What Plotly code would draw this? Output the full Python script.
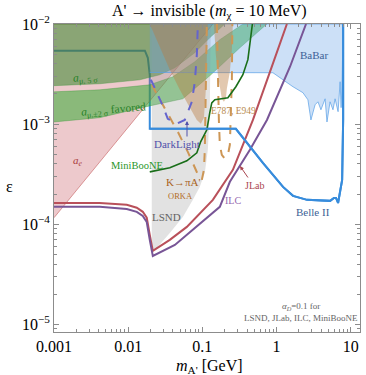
import plotly.graph_objects as go

# ---------------- data (m_A' in GeV, epsilon) ----------------
ae_m = [0.001, 0.1386, 0.001]
ae_eps = [1.16e-4, 0.01, 0.01]

amu5_m = [0.001, 0.00414, 0.01436, 0.0267, 0.0426, 0.0792, 0.126, 0.201, 0.001]
amu5_eps = [2.42e-3, 2.53e-3, 2.77e-3, 3.11e-3, 3.66e-3, 5.16e-3, 7.29e-3, 0.01, 0.01]

fav_up_m = [0.001, 0.00414, 0.01955, 0.04, 0.0792, 0.172, 0.352]
fav_up_eps = [2.10e-3, 2.20e-3, 2.47e-3, 2.97e-3, 4.20e-3, 6.97e-3, 0.01]
fav_lo_m = [0.001, 0.00414, 0.01955, 0.0546, 0.126, 0.321, 0.743]
fav_lo_eps = [1.05e-3, 1.16e-3, 1.52e-3, 1.79e-3, 3.04e-3, 5.79e-3, 0.01]

lsnd_m = [0.0208, 0.0208, 0.0229, 0.0243, 0.0364, 0.0546, 0.0745, 0.0925, 0.108, 0.1186, 0.126, 0.130]
lsnd_eps = [0.01, 5.80e-5, 5.41e-5, 5.80e-5, 8.19e-5, 1.18e-4, 1.75e-4, 2.36e-4, 3.26e-4, 5.53e-4, 1.39e-3, 0.01]

babar_m = [0.01955, 0.698, 0.894, 1.224, 1.67, 2.27, 2.65, 2.91, 3.31, 3.62, 3.97, 4.52, 4.79,
           5.27, 5.77, 6.16, 6.76, 7.20, 7.43, 7.67, 7.91, 0.01955]
babar_eps = [3.28e-3, 3.28e-3, 3.26e-3, 2.77e-3, 2.36e-3, 2.06e-3, 1.75e-3, 1.10e-3, 1.56e-3, 1.67e-3,
             1.39e-3, 1.79e-3, 1.05e-3, 1.67e-3, 1.39e-3, 1.79e-3, 1.33e-3, 2.65e-3, 1.46e-3, 2.77e-3,
             0.01, 0.01]

e787a_m = [0.01955, 0.0267, 0.0364, 0.0497, 0.0678, 0.0843, 0.0955, 0.105, 0.1115, 0.115, 0.1186]
e787a_eps = [0.01, 5.93e-3, 3.49e-3, 2.20e-3, 1.46e-3, 1.10e-3, 1.01e-3, 1.16e-3, 2.20e-3, 5.53e-3, 0.01]
e787b_m = [0.143, 0.152, 0.162, 0.172, 0.183, 0.195, 0.2075, 0.214, 0.235, 0.250, 0.258]
e787b_eps = [0.01, 4.93e-3, 3.11e-3, 2.25e-3, 1.79e-3, 1.67e-3, 1.79e-3, 2.25e-3, 3.33e-3, 5.53e-3, 0.01]

orka_m = [0.0208, 0.0312, 0.0467, 0.0637, 0.0792, 0.0925, 0.0984, 0.105, 0.108, 0.1115, 0.115, None,
          0.157, 0.162, 0.167, 0.172, 0.183, 0.201, 0.221, 0.235, 0.2425, 0.250, 0.254]
orka_eps = [2.47e-3, 1.42e-3, 8.38e-4, 5.28e-4, 3.74e-4, 2.84e-4, 2.77e-4, 3.49e-4, 5.53e-4, 1.75e-3, 0.01, None,
            0.01, 2.77e-3, 1.10e-3, 6.21e-4, 4.93e-4, 4.50e-4, 4.93e-4, 6.21e-4, 1.10e-3, 2.77e-3, 0.01]

darklight_m = [0.0202, 0.0215, 0.0284, 0.0342, 0.0453, 0.0580, 0.0721, 0.0792, 0.0843, 0.0870]
darklight_eps = [2.77e-3, 2.53e-3, 1.60e-3, 1.13e-3, 1.01e-3, 1.10e-3, 1.67e-3, 2.65e-3, 4.93e-3, 0.01]

miniboone_m = [0.01955, 0.0364, 0.0618, 0.0843, 0.0948, 0.115, 0.126, 0.134, 0.1475, 0.221, 0.283,
               0.352, 0.411, 0.452, 0.473]
miniboone_eps = [3.33e-4, 3.66e-4, 4.30e-4, 5.16e-4, 6.65e-4, 8.77e-4, 1.30e-3, 1.63e-3, 1.75e-3, 1.83e-3,
                 2.36e-3, 3.11e-3, 4.40e-3, 7.29e-3, 0.01]

jlab_m = [0.001, 0.00414, 0.00957, 0.01306, 0.01574, 0.0178, 0.01955, 0.0215, 0.0364, 0.0618, 0.1386,
          0.258, 0.399, 0.481, 0.816, 1.38]
jlab_eps = [1.63e-4, 1.63e-4, 1.56e-4, 1.46e-4, 1.33e-4, 1.16e-4, 7.82e-5, 5.41e-5, 6.97e-5, 9.40e-5,
            1.75e-4, 3.49e-4, 7.82e-4, 1.10e-3, 3.33e-3, 0.01]

ilc_m = [0.001, 0.00414, 0.00957, 0.01306, 0.01574, 0.0178, 0.01955, 0.0215, 0.0426, 0.0745, 0.172,
         0.235, 0.438, 0.743, 1.52, 2.50]
ilc_eps = [1.49e-4, 1.49e-4, 1.42e-4, 1.33e-4, 1.21e-4, 1.05e-4, 6.97e-5, 4.82e-5, 6.21e-5, 8.77e-5,
           1.49e-4, 2.65e-4, 5.53e-4, 1.10e-3, 3.74e-3, 0.01]

belle_m = [0.001, 0.0168, 0.0184, 0.01955, 0.01955, 0.283, 0.655, 1.224, 1.67, 2.58, 5.27, 5.95, 6.34,
           6.76, 7.67, 7.91, 7.91]
belle_eps = [5.41e-3, 5.41e-3, 4.60e-3, 3.11e-3, 8.97e-4, 8.97e-4, 4.10e-4, 2.36e-4, 1.92e-4, 1.75e-4,
             1.71e-4, 1.83e-4, 1.83e-4, 1.63e-4, 2.77e-4, 1.10e-3, 0.01]

x_ticks = [0.001, 0.01, 0.1, 1, 10]
x_ticktext = ["0.001", "0.01", "0.1", "1", "10"]
y_ticks = [1e-5, 1e-4, 1e-3, 1e-2]
y_ticktext = ["10<sup>\u22125</sup>", "10<sup>\u22124</sup>", "10<sup>\u22123</sup>", "10<sup>\u22122</sup>"]

# ---------------- figure ----------------
W, H = 366, 375
L, R, T, B = 54, 6, 24, 43
PW, PH = W - L - R, H - T - B
SERIF = "Liberation Serif, Times New Roman, serif"


def pxx(x):
    return (x - L) / PW


def pyy(y):
    return (H - B - y) / PH


fig = go.Figure()


def region(xs, ys, fill, line_color=None, lw=0.8):
    fig.add_trace(go.Scatter(x=xs, y=ys, mode="lines", fill="toself", fillcolor=fill,
                             line=dict(color=line_color or "rgba(0,0,0,0)", width=lw),
                             hoverinfo="skip", showlegend=False))


def curve(xs, ys, color, width=2, dash="solid"):
    fig.add_trace(go.Scatter(x=xs, y=ys, mode="lines", line=dict(color=color, width=width, dash=dash),
                             hoverinfo="skip", showlegend=False, connectgaps=False))


BELLE = "rgb(55,140,220)"
# Belle II first: its upper-left part lies beneath the g-2 overlays
curve(belle_m, belle_eps, BELLE, 2)

region(ae_m, ae_eps, "rgba(200,90,100,0.33)", "rgba(200,100,100,0.8)", 0.8)
region(amu5_m, amu5_eps, "rgba(40,130,30,0.5)", "rgba(60,150,60,0.6)", 0.6)
band_m = fav_up_m + fav_lo_m[::-1]
band_eps = fav_up_eps + fav_lo_eps[::-1]
region(band_m, band_eps, "rgba(40,170,40,0.5)", "rgba(60,150,60,0.6)", 0.6)
region(lsnd_m, lsnd_eps, "rgba(150,150,150,0.28)")
region(babar_m, babar_eps, "rgba(100,160,230,0.33)", "rgba(90,160,230,0.9)", 0.8)
region(e787a_m, e787a_eps, "rgba(185,125,65,0.42)")
region(e787b_m, e787b_eps, "rgba(185,125,65,0.42)")

curve(orka_m, orka_eps, "rgb(205,150,85)", 2, "dash")
curve(darklight_m, darklight_eps, "rgb(100,100,205)", 2, "dash")
curve(miniboone_m, miniboone_eps, "rgb(25,110,25)", 1.6)
curve(jlab_m, jlab_eps, "rgb(185,80,90)", 2)
curve(ilc_m, ilc_eps, "rgb(120,85,150)", 2)
# lower part of Belle II on top of everything
curve(belle_m[4:], belle_eps[4:], BELLE, 2)

ann = []


def label(text, x, y, color, size=11, angle=0):
    ann.append(dict(text=text, x=pxx(x), y=pyy(y), xref="paper", yref="paper", showarrow=False,
                    xanchor="center", yanchor="middle", textangle=angle,
                    font=dict(family=SERIF, size=size, color=color)))


label("BaBar", 314, 55, "rgb(60,95,150)", 11)
label("Belle II", 313, 212, "rgb(60,95,150)", 11)
label("JLab", 254, 185, "rgb(170,70,80)", 10)
label("ILC", 233, 200, "rgb(150,105,175)", 10)
label("E787, E949", 233, 111, "rgb(185,140,80)", 9.5)
label("DarkLight", 177, 144, "rgb(80,80,170)", 11)
label("MiniBooNE", 137, 165, "rgb(40,150,40)", 10.5)
label("K\u2192\u03c0A'", 183, 182, "rgb(170,100,30)", 11)
label("ORKA", 180, 196, "rgb(180,110,40)", 8.5)
label("LSND", 166, 217, "rgb(100,100,100)", 11)
label("<i>a</i><sub><i>e</i></sub>", 78, 161, "rgb(170,60,60)", 11)
label("<i>a</i><sub>\u03bc, 5 \u03c3</sub>", 85, 78, "rgb(40,130,40)", 11.5, -4)
label("<i>a</i><sub>\u03bc,\u00b12 \u03c3</sub> favored", 113, 110, "rgb(40,130,40)", 11.5, -5)
label("<i>\u03b1</i><sub><i>D</i></sub>=0.1 for", 301, 306, "rgb(100,100,100)", 9)
label("LSND, JLab, ILC, MiniBooNE", 301, 318, "rgb(100,100,100)", 9)

# arrows
ann.append(dict(x=pxx(187), y=pyy(121), xref="paper", yref="paper", ax=0, ay=17, text="",
                showarrow=True, arrowhead=2, arrowsize=0.8, arrowwidth=1, arrowcolor="rgb(80,80,170)"))
ann.append(dict(x=pxx(240), y=pyy(166), xref="paper", yref="paper", ax=9, ay=13, text="",
                showarrow=True, arrowhead=2, arrowsize=0.8, arrowwidth=1, arrowcolor="rgb(170,70,80)"))

# titles
ann.append(dict(text="A' \u2192 invisible (<i>m</i><sub>\u03c7</sub> = 10 MeV)", x=pxx(209), y=pyy(11),
                xref="paper", yref="paper", showarrow=False, xanchor="center", yanchor="middle",
                font=dict(family=SERIF, size=16, color="black")))
ann.append(dict(text="<i>m</i><sub>A'</sub> [GeV]", x=pxx(209), y=pyy(366),
                xref="paper", yref="paper", showarrow=False, xanchor="center", yanchor="middle",
                font=dict(family=SERIF, size=16, color="black")))
ann.append(dict(text="\u03b5", x=pxx(9), y=pyy(186),
                xref="paper", yref="paper", showarrow=False, xanchor="center", yanchor="middle",
                font=dict(family=SERIF, size=16, color="black")))

x_minor = [k * 10 ** n for n in range(-3, 2) for k in range(2, 10) if k * 10 ** n < 13.3]
y_minor = [k * 10.0 ** n for n in range(-6, -2) for k in range(2, 10) if k * 10.0 ** n > 8.4e-6]

axis_common = dict(showgrid=False, zeroline=False, showline=True, linecolor="rgb(140,140,140)",
                   linewidth=1, mirror="ticks", ticks="inside", ticklen=5, tickcolor="rgb(140,140,140)",
                   tickwidth=1, automargin=False, tickfont=dict(family=SERIF, size=16, color="black"))

fig.update_layout(
    width=W, height=H,
    margin=dict(l=L, r=R, t=T, b=B, autoexpand=False),
    paper_bgcolor="white", plot_bgcolor="white",
    showlegend=False,
    annotations=ann,
    xaxis=dict(type="log", range=[-3, 1.1255], tickmode="array", tickvals=x_ticks, ticktext=x_ticktext,
               minor=dict(ticks="inside", ticklen=3, tickcolor="rgb(140,140,140)", tickmode="array",
                          tickvals=x_minor, showgrid=False),
               **axis_common),
    yaxis=dict(type="log", range=[-5.077, -2], tickmode="array", tickvals=y_ticks, ticktext=y_ticktext,
               minor=dict(ticks="inside", ticklen=3, tickcolor="rgb(140,140,140)", tickmode="array",
                          tickvals=y_minor, showgrid=False),
               **axis_common),
)

fig.write_html("out.html", config={"displayModeBar": False},
               post_script="document.body.style.margin='0';document.body.style.padding='0';")
